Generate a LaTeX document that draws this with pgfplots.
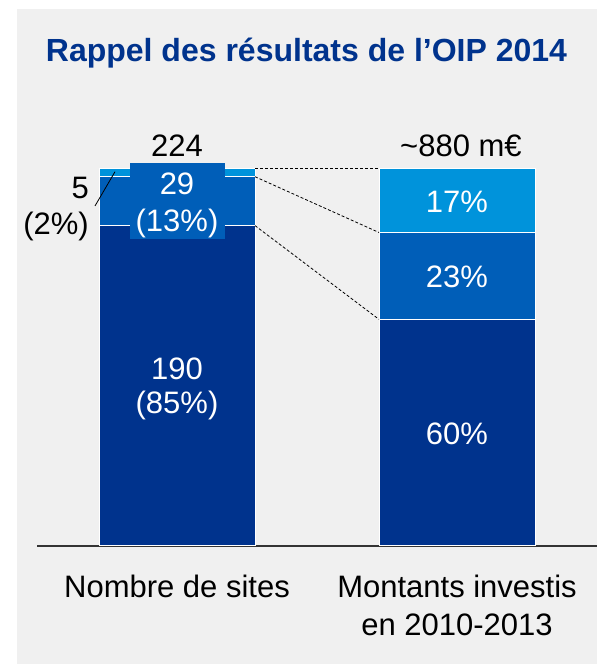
\documentclass[border=0pt]{standalone}
\usepackage{pgfplots}
\pgfplotsset{compat=1.18}
\usepackage{fontspec}
\setmainfont{Liberation Sans}
\definecolor{cdark}{HTML}{00338D}
\definecolor{cmid}{HTML}{005EB8}
\definecolor{clight}{HTML}{0093DB}
\definecolor{cbg}{HTML}{F0F0F0}
\newcommand\lf{\fontsize{31bp}{36bp}\selectfont}
\begin{document}
\begin{tikzpicture}[x=1bp,y=1bp]
\useasboundingbox (0,0) rectangle (597,664);
\fill[white] (0,0) rectangle (597,664);
\fill[cbg] (17,0) rectangle (597,655);
\begin{axis}[
  at={(37bp,118bp)}, anchor=south west,
  scale only axis, width=560bp, height=377.7bp,
  xmin=-0.5, xmax=1.5, ymin=0, ymax=100,
  axis x line*=bottom, axis y line=none,
  x axis line style={-, line width=1.2bp, color=black!80},
  xtick={0,1},
  xticklabels={Nombre de sites, {Montants investis\\en 2010-2013}},
  major tick length=0,
  ytick=\empty,
  xticklabel style={align=center, font=\fontsize{31bp}{38bp}\selectfont, anchor=north, yshift=-28.8bp, inner sep=0pt},
  ybar stacked, bar width=156bp,
  clip=false,
  every axis plot/.append style={draw=white, line width=1bp},
]
\addplot[fill=cdark] coordinates {(0,84.82) (1,60)};
\addplot[fill=cmid] coordinates {(0,12.95) (1,23)};
\addplot[fill=clight] coordinates {(0,2.23) (1,17)};

\coordinate (d1a) at (axis cs:0.2786,100);
\coordinate (d1b) at (axis cs:0.7214,100);
\coordinate (d2a) at (axis cs:0.2786,97.77);
\coordinate (d2b) at (axis cs:0.7214,83);
\coordinate (d3a) at (axis cs:0.2786,84.82);
\coordinate (d3b) at (axis cs:0.7214,60);
\coordinate (box) at (axis cs:0,91.3);
\coordinate (t29) at (axis cs:0,92.93);
\coordinate (t13) at (axis cs:0,83.21);
\coordinate (t5) at (axis cs:-0.3143,92.06);
\coordinate (t2) at (axis cs:-0.3143,82.34);
\coordinate (la) at (axis cs:-0.2929,90.02);
\coordinate (lb) at (axis cs:-0.2214,99.10);
\coordinate (t190) at (axis cs:0,44.21);
\coordinate (t85) at (axis cs:0,34.95);
\coordinate (t17) at (axis cs:1,88.30);
\coordinate (t23) at (axis cs:1,68.57);
\coordinate (t60) at (axis cs:1,26.87);
\coordinate (t224) at (axis cs:0,103.07);
\coordinate (t880) at (axis cs:1.014,103.07);
\coordinate (ttl) at (axis cs:0.4625,128.14);
\end{axis}
% connecting dashed lines
\draw[line width=0.8bp, dash pattern=on 3bp off 2bp] (d1a) -- (d1b);
\draw[line width=0.8bp, dash pattern=on 3bp off 2bp] (d2a) -- (d2b);
\draw[line width=0.8bp, dash pattern=on 3bp off 2bp] (d3a) -- (d3b);
% label box for 29
\node[fill=cmid, minimum width=95bp, minimum height=76.3bp, inner sep=0pt] at (box) {};
\node[anchor=base, inner sep=0pt, text=white, font=\lf] at (t29) {29};
\node[anchor=base, inner sep=0pt, text=white, font=\lf] at (t13) {(13\%)};
% 5 (2%)
\node[anchor=base east, inner sep=0pt, font=\lf] at (t5) {5};
\node[anchor=base east, inner sep=0pt, font=\lf] at (t2) {(2\%)};
\draw[line width=0.8bp] (la) -- (lb);
% inside labels
\node[anchor=base, inner sep=0pt, text=white, font=\lf] at (t190) {190};
\node[anchor=base, inner sep=0pt, text=white, font=\lf] at (t85) {(85\%)};
\node[anchor=base, inner sep=0pt, text=white, font=\lf] at (t17) {17\%};
\node[anchor=base, inner sep=0pt, text=white, font=\lf] at (t23) {23\%};
\node[anchor=base, inner sep=0pt, text=white, font=\lf] at (t60) {60\%};
% totals
\node[anchor=base, inner sep=0pt, font=\lf] at (t224) {224};
\node[anchor=base, inner sep=0pt, font=\lf] at (t880) {\textasciitilde{}880 m€};
% title
\node[anchor=base, inner sep=0pt, text=cdark, font=\bfseries\fontsize{32bp}{38bp}\selectfont] at (ttl) {Rappel des résultats de l’OIP 2014};
\end{tikzpicture}
\end{document}
